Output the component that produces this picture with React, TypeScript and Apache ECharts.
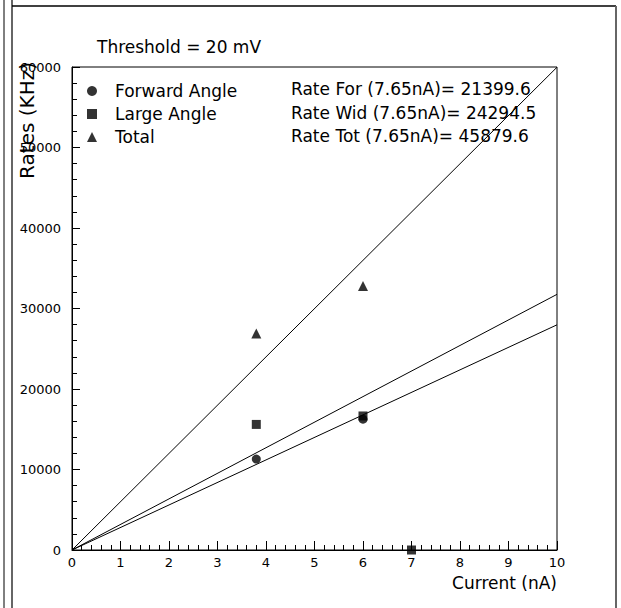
import React, { useEffect, useRef } from "react";
import * as echarts from "echarts";

const forwardAngle: [number, number][] = [
  [3.8, 11300],
  [6.0, 16250],
];
const largeAngle: [number, number][] = [
  [3.8, 15600],
  [6.0, 16650],
  [7.0, 0],
];
const total: [number, number][] = [
  [3.8, 26900],
  [6.0, 32800],
];
// fitted lines through the origin (endpoints at 0 and 10 nA)
const fitFor: [number, number][] = [
  [0, 0],
  [10, 27973],
];
const fitWid: [number, number][] = [
  [0, 0],
  [10, 31758],
];
const fitTot: [number, number][] = [
  [0, 0],
  [10, 59973],
];
const legendNames = ["Forward Angle", "Large Angle", "Total"];
const legendIcons = ["circle", "rect", "triangle"];
const rateTexts = [
  "Rate For (7.65nA)= 21399.6",
  "Rate Wid (7.65nA)= 24294.5",
  "Rate Tot (7.65nA)= 45879.6",
];
const thresholdText = "Threshold = 20 mV";
const xTitle = "Current (nA)";
const yTitle = "Rates (KHz)";

const FONT = "DejaVu Sans";

export default function App() {
  const ref = useRef<HTMLDivElement>(null);
  useEffect(() => {
    if (!ref.current) return;
    const chart = echarts.init(ref.current, null, { renderer: "svg" });
    const lineSeries = (data: [number, number][]) => ({
      type: "line",
      data,
      symbol: "none",
      silent: true,
      lineStyle: { color: "#000", width: 1 },
      z: 2,
    });
    chart.setOption({
      animation: false,
      backgroundColor: "#fff",
      textStyle: { fontFamily: FONT, color: "#000" },
      grid: {
        left: 72,
        top: 67,
        width: 485,
        height: 483,
        show: true,
        borderColor: "#000",
        borderWidth: 1,
        backgroundColor: "transparent",
      },
      xAxis: {
        type: "value",
        min: 0,
        max: 10,
        interval: 1,
        axisLine: { show: true, lineStyle: { color: "#000", width: 1 } },
        axisTick: { show: true, inside: true, length: 9, lineStyle: { color: "#000" } },
        minorTick: { show: true, splitNumber: 5, length: 5, lineStyle: { color: "#000" } },
        splitLine: { show: false },
        axisLabel: { color: "#000", fontSize: 13, fontFamily: FONT, margin: 6 },
      },
      yAxis: {
        type: "value",
        min: 0,
        max: 60000,
        interval: 10000,
        axisLine: { show: true, lineStyle: { color: "#000", width: 1 } },
        axisTick: { show: true, inside: true, length: 8, lineStyle: { color: "#000" } },
        minorTick: { show: true, splitNumber: 5, length: 5, lineStyle: { color: "#000" } },
        splitLine: { show: false },
        axisLabel: {
          color: "#000",
          fontSize: 13,
          fontFamily: FONT,
          margin: 11,
          formatter: (v: number) => String(v),
        },
      },
      legend: {
        data: legendNames.map((n, i) => ({ name: n, icon: legendIcons[i] })),
        orient: "vertical",
        left: 87,
        top: 82,
        padding: 0,
        itemWidth: 10,
        itemHeight: 10,
        itemGap: 5,
        selectedMode: false,
        textStyle: {
          fontFamily: FONT,
          fontSize: 17,
          color: "#000",
          lineHeight: 18,
          padding: [0, 0, 0, 13],
        },
      },
      series: [
        lineSeries(fitFor),
        lineSeries(fitWid),
        lineSeries(fitTot),
        {
          name: legendNames[0],
          type: "scatter",
          data: forwardAngle,
          symbol: "circle",
          symbolSize: 9,
          itemStyle: { color: "#000" },
          z: 3,
        },
        {
          name: legendNames[1],
          type: "scatter",
          data: largeAngle,
          symbol: "rect",
          symbolSize: 9,
          itemStyle: { color: "#000" },
          z: 3,
        },
        {
          name: legendNames[2],
          type: "scatter",
          data: total,
          symbol: "triangle",
          symbolSize: 10,
          itemStyle: { color: "#000" },
          z: 3,
        },
      ],
      graphic: [
        { type: "line", shape: { x1: 4, y1: 0, x2: 4, y2: 608 }, style: { stroke: "#000", lineWidth: 1 } },
        { type: "line", shape: { x1: 12, y1: 0, x2: 12, y2: 608 }, style: { stroke: "#666", lineWidth: 2 } },
        { type: "line", shape: { x1: 12, y1: 6, x2: 616, y2: 6 }, style: { stroke: "#000", lineWidth: 1.5 } },
        { type: "line", shape: { x1: 616, y1: 6, x2: 616, y2: 608 }, style: { stroke: "#666", lineWidth: 2 } },
        {
          type: "text",
          x: 97,
          y: 47,
          style: { text: thresholdText, font: `17px '${FONT}'`, fill: "#000", textVerticalAlign: "middle" },
        },
        ...rateTexts.map((t, i) => ({
          type: "text",
          x: 291,
          y: 89 + i * 23.5,
          style: { text: t, font: `17px '${FONT}'`, fill: "#000", textVerticalAlign: "middle" },
        })),
        {
          type: "text",
          x: 557,
          y: 583,
          style: { text: xTitle, font: `17px '${FONT}'`, fill: "#000", textAlign: "right", textVerticalAlign: "middle" },
        },
        {
          type: "text",
          x: 27,
          y: 62,
          rotation: Math.PI / 2,
          style: { text: yTitle, font: `20px '${FONT}'`, fill: "#000", textAlign: "right", textVerticalAlign: "middle" },
        },
      ],
    });
    return () => chart.dispose();
  }, []);
  return (
    <div
      ref={ref}
      style={{ position: "fixed", left: 0, top: 0, width: 621, height: 608, background: "#fff" }}
    />
  );
}
